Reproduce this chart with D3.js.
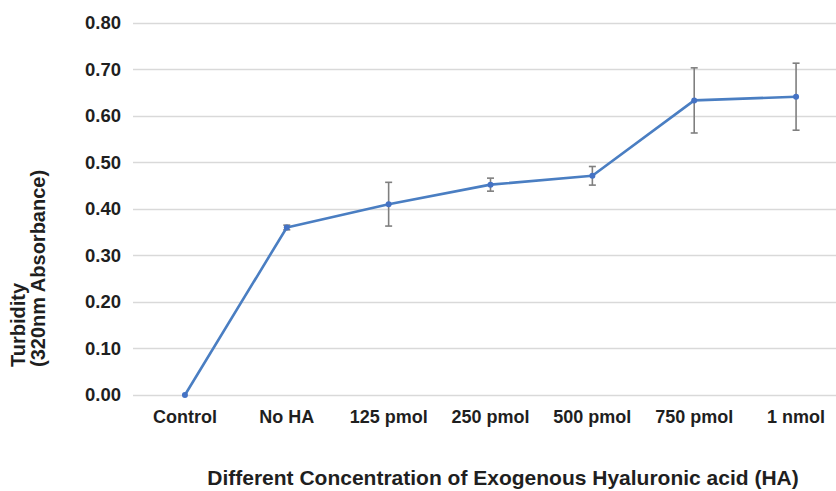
<!DOCTYPE html>
<html>
<head>
<meta charset="utf-8">
<script src="https://cdn.jsdelivr.net/npm/d3@7"></script>
<style>
  html, body { margin: 0; padding: 0; background: #fff; }
  svg text { font-family: "Liberation Sans", Arial, sans-serif; font-weight: bold; fill: #1f1f1f; }
</style>
</head>
<body>
<svg id="chart" width="836" height="491"></svg>
<script>
// Turbidity (A320) by concentration of exogenous hyaluronic acid
const categories = ["Control", "No HA", "125 pmol", "250 pmol", "500 pmol", "750 pmol", "1 nmol"];
const turbidity = [0.000, 0.360, 0.410, 0.452, 0.471, 0.633, 0.641];
const errors = [0.002, 0.005, 0.047, 0.014, 0.020, 0.070, 0.072];
const yTicks = [0, 0.1, 0.2, 0.3, 0.4, 0.5, 0.6, 0.7, 0.8];

const svg = d3.select("#chart");
const plotLeft = 134, plotRight = 847, plotTop = 22.7, plotBottom = 395;

const x = d3.scaleBand().domain(categories).range([plotLeft, plotRight]);
const y = d3.scaleLinear().domain([0, 0.8]).range([plotBottom, plotTop]);

// horizontal gridlines
svg.append("g")
  .selectAll("line")
  .data(yTicks)
  .join("line")
  .attr("x1", plotLeft - 1)
  .attr("x2", 836)
  .attr("y1", d => Math.round(y(d)) + 0.5)
  .attr("y2", d => Math.round(y(d)) + 0.5)
  .attr("stroke", "#d9d9d9")
  .attr("stroke-width", 1.3);

// y axis tick labels
const yAxis = d3.axisLeft(y).tickValues(yTicks).tickFormat(d3.format(".2f")).tickSize(0).tickPadding(13);
const gy = svg.append("g").attr("transform", `translate(${plotLeft},0)`).call(yAxis);
gy.attr("font-family", null).attr("font-size", null);
gy.select(".domain").remove();
gy.selectAll("text").attr("font-size", 18.5);

// x axis category labels
const xAxis = d3.axisBottom(x).tickSize(0).tickPadding(15);
const gx = svg.append("g").attr("transform", `translate(0,${plotBottom})`).call(xAxis);
gx.attr("font-family", null).attr("font-size", null);
gx.select(".domain").remove();
gx.selectAll("text").attr("font-size", 18);

const cx = d => x(d) + x.bandwidth() / 2;

// error bars
const eb = svg.append("g").attr("stroke", "#7f7f7f").attr("stroke-width", 1.6).attr("fill", "none");
categories.forEach((c, i) => {
  if (errors[i] < 0.004) return;
  const hi = y(turbidity[i] + errors[i]), lo = y(turbidity[i] - errors[i]);
  eb.append("line").attr("x1", cx(c)).attr("x2", cx(c)).attr("y1", hi).attr("y2", lo);
  eb.append("line").attr("x1", cx(c) - 3.5).attr("x2", cx(c) + 3.5).attr("y1", hi).attr("y2", hi);
  eb.append("line").attr("x1", cx(c) - 3.5).attr("x2", cx(c) + 3.5).attr("y1", lo).attr("y2", lo);
});

// series line
const line = d3.line().x((d, i) => cx(categories[i])).y(d => y(d));
svg.append("path")
  .datum(turbidity)
  .attr("d", line)
  .attr("fill", "none")
  .attr("stroke", "#4a7ec2")
  .attr("stroke-width", 2.6)
  .attr("stroke-linejoin", "round");

// markers
svg.append("g")
  .selectAll("circle")
  .data(turbidity)
  .join("circle")
  .attr("cx", (d, i) => cx(categories[i]))
  .attr("cy", d => y(d))
  .attr("r", 3)
  .attr("fill", "#4472c4");

// axis titles
svg.append("text")
  .attr("x", 503)
  .attr("y", 485)
  .attr("text-anchor", "middle")
  .attr("font-size", 21)
  .text("Different Concentration of Exogenous Hyaluronic acid (HA)");

const yTitle = svg.append("text")
  .attr("transform", "translate(25,367) rotate(-90)")
  .attr("font-size", 20);
yTitle.append("tspan").attr("x", 0).attr("y", 0).text("Turbidity");
yTitle.append("tspan").attr("x", 0).attr("y", 20).text("(320nm Absorbance)");
</script>
</body>
</html>
